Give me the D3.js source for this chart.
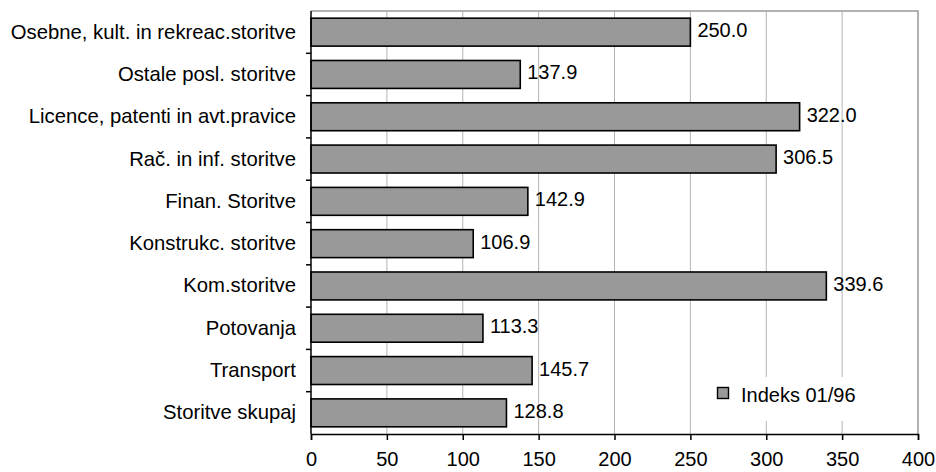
<!DOCTYPE html>
<html>
<head>
<meta charset="utf-8">
<script src="https://cdn.jsdelivr.net/npm/d3@7"></script>
<style>
  html, body { margin: 0; padding: 0; background: #fff; }
  svg { display: block; }
  text { font-family: "Liberation Sans", Arial, sans-serif; }
</style>
</head>
<body>
<svg id="chart" width="936" height="472"></svg>
<script>
const categories = [
  "Osebne, kult. in rekreac.storitve",
  "Ostale posl. storitve",
  "Licence, patenti in avt.pravice",
  "Rač. in inf. storitve",
  "Finan. Storitve",
  "Konstrukc. storitve",
  "Kom.storitve",
  "Potovanja",
  "Transport",
  "Storitve skupaj"
];
const values = [250.0, 137.9, 322.0, 306.5, 142.9, 106.9, 339.6, 113.3, 145.7, 128.8];
const xTicks = [0, 50, 100, 150, 200, 250, 300, 350, 400];
const seriesName = "Indeks 01/96";

(function () {
const svg = d3.select("#chart");
const pLeft = 311, pRight = 918, pTop = 11, pBottom = 434;
const fontSize = 20;

const x = d3.scaleLinear().domain([0, 400]).range([pLeft, pRight]);
const y = d3.scaleBand().domain(categories).range([pTop, pBottom]).paddingInner(0.34).paddingOuter(0.17);

// gridlines
svg.append("g").selectAll("line").data(xTicks.slice(1, -1)).join("line")
  .attr("x1", d => x(d)).attr("x2", d => x(d))
  .attr("y1", pTop).attr("y2", pBottom)
  .attr("stroke", "#b4b4b4").attr("stroke-width", 1);

// frame top and right
svg.append("path")
  .attr("d", `M${pLeft},${pTop}H${pRight}V${pBottom}`)
  .attr("fill", "none").attr("stroke", "#999").attr("stroke-width", 1.5);

// legend background (covers gridlines)
svg.append("rect").attr("x", 705).attr("y", 377).attr("width", 163).attr("height", 44).attr("fill", "#fff");

// bars
svg.append("g").selectAll("rect").data(values).join("rect")
  .attr("x", x(0))
  .attr("y", (d, i) => y(categories[i]))
  .attr("width", d => x(d) - x(0))
  .attr("height", y.bandwidth())
  .attr("fill", "#999999")
  .attr("stroke", "#000").attr("stroke-width", 1.6);

// value labels
svg.append("g").selectAll("text").data(values).join("text")
  .attr("x", d => x(d) + 7)
  .attr("y", (d, i) => y(categories[i]) + y.bandwidth() / 2 - 2)
  .attr("dy", "0.35em")
  .attr("font-size", fontSize)
  .attr("fill", "#000")
  .text(d => d.toFixed(1));

// y axis (band boundaries as ticks)
const yAxisScale = d3.scaleLinear().domain([0, categories.length]).range([pTop, pBottom]);
const yAxis = svg.append("g").attr("transform", `translate(${pLeft},0)`);
yAxis.append("path").attr("d", `M0,${pTop}V${pBottom}`).attr("stroke", "#000").attr("stroke-width", 1.5);
yAxis.selectAll("line.tk").data(d3.range(1, categories.length)).join("line")
  .attr("class", "tk")
  .attr("x1", -5).attr("x2", 0)
  .attr("y1", d => yAxisScale(d)).attr("y2", d => yAxisScale(d))
  .attr("stroke", "#000").attr("stroke-width", 1.5);
yAxis.selectAll("text").data(categories).join("text")
  .attr("x", -15)
  .attr("y", d => y(d) + y.bandwidth() / 2)
  .attr("dy", "0.32em")
  .attr("text-anchor", "end")
  .attr("font-size", 20.3)
  .attr("fill", "#000")
  .text(d => d);

// x axis
const xAxis = svg.append("g").attr("transform", `translate(0,${pBottom})`)
  .call(d3.axisBottom(x).tickValues(xTicks).tickFormat(d3.format("d")).tickSize(6).tickPadding(12));
xAxis.select(".domain").attr("stroke", "#000").attr("stroke-width", 1.5);
xAxis.selectAll(".tick line").attr("stroke", "#000").attr("stroke-width", 1.5);
xAxis.selectAll("text").attr("font-size", fontSize).attr("font-family", "Liberation Sans, Arial, sans-serif").attr("fill", "#000");

// legend
const lg = svg.append("g");
lg.append("rect").attr("x", 717.5).attr("y", 387.5).attr("width", 11).attr("height", 11)
  .attr("fill", "#999999").attr("stroke", "#000").attr("stroke-width", 1.4);
lg.append("text").attr("x", 741).attr("y", 402).attr("font-size", fontSize).attr("fill", "#000").text(seriesName);
})();
</script>
</body>
</html>
